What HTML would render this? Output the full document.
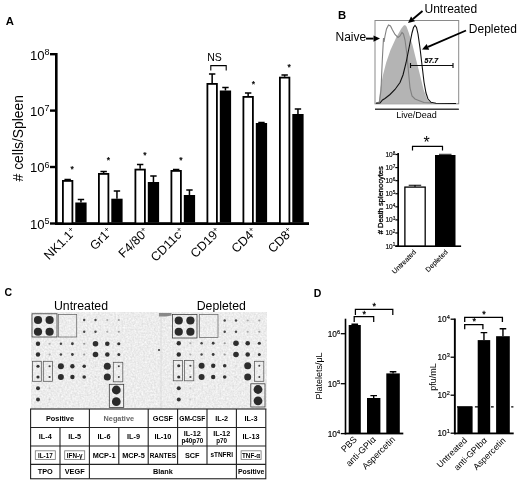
<!DOCTYPE html>
<html><head><meta charset="utf-8"><title>Figure</title>
<style>
html,body{margin:0;padding:0;background:#fff;}
body{width:520px;height:483px;overflow:hidden;}
svg{display:block;font-family:"Liberation Sans",sans-serif;fill:#000;}
.b{font-weight:bold;}
.tb{font-weight:bold;font-size:7.3px;text-anchor:middle;}
</style></head><body>
<svg width="520" height="483" viewBox="0 0 520 483">
<rect width="520" height="483" fill="#fff"/>
<defs><filter id="jp" x="0" y="0" width="520" height="483" filterUnits="userSpaceOnUse"><feGaussianBlur stdDeviation="0.38"/></filter></defs>
<g filter="url(#jp)">

<g id="panelA">
<text x="5.8" y="24.5" font-size="11.3" text-anchor="start" class="b">A</text>
<rect x="55" y="53" width="2.6" height="172" />
<rect x="55" y="222.2" width="254" height="2.8" />
<rect x="50" y="53.0" width="6" height="2.4"/>
<text x="49.5" y="59.5" font-size="13.1" text-anchor="end">10<tspan font-size="9" dy="-4.6">8</tspan></text>
<rect x="50" y="109.39999999999999" width="6" height="2.4"/>
<text x="49.5" y="115.89999999999999" font-size="13.1" text-anchor="end">10<tspan font-size="9" dy="-4.6">7</tspan></text>
<rect x="50" y="165.8" width="6" height="2.4"/>
<text x="49.5" y="172.3" font-size="13.1" text-anchor="end">10<tspan font-size="9" dy="-4.6">6</tspan></text>
<rect x="50" y="222.3" width="6" height="2.4"/>
<text x="49.5" y="228.8" font-size="13.1" text-anchor="end">10<tspan font-size="9" dy="-4.6">5</tspan></text>
<text x="22.6" y="138.2" font-size="13.9" text-anchor="middle" transform="rotate(-90 22.6 138.2)"># cells/Spleen</text>
<rect x="62.9" y="180.9" width="9.5" height="42.5" fill="#fff" stroke="#000" stroke-width="1.8"/>
<path d="M67.65 180 V179.6 M64.45 179.6 H70.85000000000001" stroke="#000" stroke-width="1.5" fill="none"/>
<rect x="75.3" y="202.5" width="11.3" height="20.0"/>
<path d="M80.95 202.5 V199.5 M77.75 199.5 H84.15" stroke="#000" stroke-width="1.5" fill="none"/>
<text x="72.2" y="171.5" font-size="8.6" text-anchor="middle" fill="#000" stroke="#000" stroke-width="0.25">*</text>
<text x="77" y="232.6" font-size="12.5" text-anchor="end" transform="rotate(-45 77 232.6)">NK1.1<tspan font-size="8" dy="-4">+</tspan></text>
<rect x="98.9" y="173.9" width="9.5" height="49.5" fill="#fff" stroke="#000" stroke-width="1.8"/>
<path d="M103.65 173 V171.6 M100.45 171.6 H106.85000000000001" stroke="#000" stroke-width="1.5" fill="none"/>
<rect x="111.3" y="198.7" width="11.3" height="23.80000000000001"/>
<path d="M116.95 198.7 V191 M113.75 191 H120.15" stroke="#000" stroke-width="1.5" fill="none"/>
<text x="108.5" y="163.0" font-size="8.6" text-anchor="middle" fill="#000" stroke="#000" stroke-width="0.25">*</text>
<text x="113" y="232.6" font-size="12.5" text-anchor="end" transform="rotate(-45 113 232.6)">Gr1<tspan font-size="8" dy="-4">+</tspan></text>
<rect x="135.4" y="169.6" width="9.5" height="53.80000000000001" fill="#fff" stroke="#000" stroke-width="1.8"/>
<path d="M140.15 168.7 V164.5 M136.95000000000002 164.5 H143.35" stroke="#000" stroke-width="1.5" fill="none"/>
<rect x="147.8" y="182" width="11.3" height="40.5"/>
<path d="M153.45000000000002 182 V176 M150.25000000000003 176 H156.65" stroke="#000" stroke-width="1.5" fill="none"/>
<text x="145.0" y="157.7" font-size="8.6" text-anchor="middle" fill="#000" stroke="#000" stroke-width="0.25">*</text>
<text x="149.5" y="232.6" font-size="12.5" text-anchor="end" transform="rotate(-45 149.5 232.6)">F4/80<tspan font-size="8" dy="-4">+</tspan></text>
<rect x="171.4" y="170.9" width="9.5" height="52.5" fill="#fff" stroke="#000" stroke-width="1.8"/>
<path d="M176.15 170 V169.4 M172.95000000000002 169.4 H179.35" stroke="#000" stroke-width="1.5" fill="none"/>
<rect x="183.8" y="195" width="11.3" height="27.5"/>
<path d="M189.45000000000002 195 V190 M186.25000000000003 190 H192.65" stroke="#000" stroke-width="1.5" fill="none"/>
<text x="181.0" y="162.7" font-size="8.6" text-anchor="middle" fill="#000" stroke="#000" stroke-width="0.25">*</text>
<text x="185.5" y="232.6" font-size="12.5" text-anchor="end" transform="rotate(-45 185.5 232.6)">CD11c<tspan font-size="8" dy="-4">+</tspan></text>
<rect x="207.4" y="83.9" width="9.5" height="139.5" fill="#fff" stroke="#000" stroke-width="1.8"/>
<path d="M212.15 83 V74 M208.95000000000002 74 H215.35" stroke="#000" stroke-width="1.5" fill="none"/>
<rect x="219.8" y="90.5" width="11.3" height="132.0"/>
<path d="M225.45000000000002 90.5 V87.5 M222.25000000000003 87.5 H228.65" stroke="#000" stroke-width="1.5" fill="none"/>
<text x="221.5" y="232.6" font-size="12.5" text-anchor="end" transform="rotate(-45 221.5 232.6)">CD19<tspan font-size="8" dy="-4">+</tspan></text>
<rect x="243.4" y="96.9" width="9.5" height="126.5" fill="#fff" stroke="#000" stroke-width="1.8"/>
<path d="M248.15 96 V93 M244.95000000000002 93 H251.35" stroke="#000" stroke-width="1.5" fill="none"/>
<rect x="255.8" y="123" width="11.3" height="99.5"/>
<path d="M261.45 123 V122.6 M258.25 122.6 H264.65" stroke="#000" stroke-width="1.5" fill="none"/>
<text x="253.5" y="87.0" font-size="8.6" text-anchor="middle" fill="#000" stroke="#000" stroke-width="0.25">*</text>
<text x="257.5" y="232.6" font-size="12.5" text-anchor="end" transform="rotate(-45 257.5 232.6)">CD4<tspan font-size="8" dy="-4">+</tspan></text>
<rect x="279.9" y="77.60000000000001" width="9.5" height="145.8" fill="#fff" stroke="#000" stroke-width="1.8"/>
<path d="M284.65 76.7 V75 M281.45 75 H287.84999999999997" stroke="#000" stroke-width="1.5" fill="none"/>
<rect x="292.3" y="114" width="11.3" height="108.5"/>
<path d="M297.95 114 V109 M294.75 109 H301.15" stroke="#000" stroke-width="1.5" fill="none"/>
<text x="289.2" y="69.5" font-size="8.6" text-anchor="middle" fill="#000" stroke="#000" stroke-width="0.25">*</text>
<text x="294" y="232.6" font-size="12.5" text-anchor="end" transform="rotate(-45 294 232.6)">CD8<tspan font-size="8" dy="-4">+</tspan></text>
<text x="214.5" y="61.3" font-size="10.5" text-anchor="middle">NS</text>
<path d="M210.8 70.5 V65.6 H226.2 V70.5" stroke="#000" stroke-width="1.1" fill="none"/>
</g>
<g id="panelB">
<text x="338" y="19" font-size="11.3" text-anchor="start" class="b">B</text>
<rect x="375" y="20.5" width="83.7" height="83.3" fill="#fff" stroke="#8a8a8a" stroke-width="1"/>
<path d="M377 103.3 L378.7 102.5 L380.5 87.5 L383 75 L386.2 62.5 L390.5 50 L396.2 37.5 L401.2 28.7 L403.5 25.8 L405 25 L406.5 26.5 L408.7 32.5 L412.5 45 L416.2 60 L420 75 L423.7 90 L427.5 100 L431.2 103 L437 103.3 Z" fill="#b4b4b4"/>
<path d="M376 103 L379.5 102 L381 90 L382.3 60 L383.5 38 L384 42 L385 36 L386.5 29 L388.5 25 L390.5 26 L392.5 30 L395 34.5 L398 37.5 L400 36 L402 32.5 L403.5 34 L405 40 L407 55 L408.5 72 L410 88 L412 96 L415 99 L420 101 L424 102.5 L432 103" fill="none" stroke="#808080" stroke-width="1.1"/>
<path d="M376 103.2 L380 103 L382.5 100 L385 98.5 L390 94.5 L395 89.5 L400 82.5 L403 75 L406 63 L408 53 L410 43 L412 33 L413.5 27.5 L415 25.5 L416.5 27.5 L418 34 L420 48 L422 65 L424 82 L426 93 L428 99 L431 102.3 L436 103.2 L456 103.5" fill="none" stroke="#111" stroke-width="1.1"/>
<path d="M410.5 65.5 H453 M410.5 63 V68 M453 63 V68" stroke="#111" stroke-width="1.15" fill="none"/>
<text x="431.3" y="63" font-size="7" text-anchor="middle" font-weight="bold" font-style="italic" stroke="#000" stroke-width="0.2">57.7</text>
<rect x="375" y="108.6" width="83.9" height="1.2" fill="#111"/>
<text x="416.4" y="117.6" font-size="9" text-anchor="middle">Live/Dead</text>
<text x="335.5" y="40.7" font-size="12" text-anchor="start">Naive</text>
<text x="424.5" y="12.5" font-size="12" text-anchor="start">Untreated</text>
<text x="468.8" y="32.5" font-size="12" text-anchor="start">Depleted</text>
<path d="M366.0 38.6 L373.5 38.6" stroke="#000" stroke-width="1.9" fill="none"/>
<path d="M380.0 38.6 L373.5 41.7 L373.5 35.5 Z"/>
<path d="M422.5 11.0 L413.0 18.9" stroke="#000" stroke-width="1.9" fill="none"/>
<path d="M408.0 23.0 L411.0 16.5 L415.0 21.2 Z"/>
<path d="M466.0 30.5 L428.0 46.9" stroke="#000" stroke-width="1.9" fill="none"/>
<path d="M422.0 49.5 L426.7 44.1 L429.2 49.8 Z"/>
<rect x="397.3" y="153" width="1.7" height="94" fill="#000"/>
<rect x="395.3" y="245.4" width="65.8" height="1.6" fill="#000"/>
<rect x="395.3" y="153.9" width="2.6" height="1.2" fill="#000"/>
<text x="395.2" y="157.0" font-size="6.5" text-anchor="end" fill="#000" stroke="#000" stroke-width="0.15">10<tspan font-size="4.6" dy="-2.2">8</tspan></text>
<rect x="395.3" y="166.98000000000002" width="2.6" height="1.2" fill="#000"/>
<text x="395.2" y="170.08" font-size="6.5" text-anchor="end" fill="#000" stroke="#000" stroke-width="0.15">10<tspan font-size="4.6" dy="-2.2">7</tspan></text>
<rect x="395.3" y="180.06" width="2.6" height="1.2" fill="#000"/>
<text x="395.2" y="183.16" font-size="6.5" text-anchor="end" fill="#000" stroke="#000" stroke-width="0.15">10<tspan font-size="4.6" dy="-2.2">6</tspan></text>
<rect x="395.3" y="193.14000000000001" width="2.6" height="1.2" fill="#000"/>
<text x="395.2" y="196.24" font-size="6.5" text-anchor="end" fill="#000" stroke="#000" stroke-width="0.15">10<tspan font-size="4.6" dy="-2.2">5</tspan></text>
<rect x="395.3" y="206.22" width="2.6" height="1.2" fill="#000"/>
<text x="395.2" y="209.32" font-size="6.5" text-anchor="end" fill="#000" stroke="#000" stroke-width="0.15">10<tspan font-size="4.6" dy="-2.2">4</tspan></text>
<rect x="395.3" y="219.3" width="2.6" height="1.2" fill="#000"/>
<text x="395.2" y="222.4" font-size="6.5" text-anchor="end" fill="#000" stroke="#000" stroke-width="0.15">10<tspan font-size="4.6" dy="-2.2">3</tspan></text>
<rect x="395.3" y="232.38000000000002" width="2.6" height="1.2" fill="#000"/>
<text x="395.2" y="235.48000000000002" font-size="6.5" text-anchor="end" fill="#000" stroke="#000" stroke-width="0.15">10<tspan font-size="4.6" dy="-2.2">2</tspan></text>
<rect x="395.3" y="245.46" width="2.6" height="1.2" fill="#000"/>
<text x="395.2" y="248.56" font-size="6.5" text-anchor="end" fill="#000" stroke="#000" stroke-width="0.15">10<tspan font-size="4.6" dy="-2.2">1</tspan></text>
<rect x="404.9" y="187.1" width="20.3" height="58.9" fill="#fff" stroke="#000" stroke-width="1.3"/>
<path d="M408.7 185.3 H421.2 M415 185.3 V187.1" stroke="#000" stroke-width="1.1" fill="none"/>
<rect x="435" y="155" width="20.5" height="91"/>
<path d="M439 154.3 H451.5" stroke="#000" stroke-width="0.9"/>
<path d="M412.5 150.6 V146.4 H442.5 V150.6" stroke="#000" stroke-width="1.2" fill="none"/>
<text x="426.5" y="148.3" font-size="16" text-anchor="middle">*</text>
<text x="383.4" y="200.3" font-size="7.5" text-anchor="middle" transform="rotate(-90 383.4 200.3)" fill="#000" stroke="#000" stroke-width="0.3"># Death splenocytes</text>
<text x="416.6" y="252.6" font-size="7" text-anchor="end" fill="#000" stroke="#000" stroke-width="0.1" transform="rotate(-45 416.6 252.6)">Untreated</text>
<text x="448.2" y="252.6" font-size="7" text-anchor="end" fill="#000" stroke="#000" stroke-width="0.1" transform="rotate(-45 448.2 252.6)">Depleted</text>
</g>
<defs><filter id="soft" x="-5%" y="-5%" width="110%" height="110%"><feGaussianBlur stdDeviation="0.45"/></filter><filter id="noise" x="0" y="0" width="100%" height="100%" color-interpolation-filters="sRGB"><feTurbulence type="fractalNoise" baseFrequency="0.55" numOctaves="2" seed="3" result="n"/><feColorMatrix in="n" type="matrix" values="0.16 0 0 0 0.845  0.16 0 0 0 0.845  0.16 0 0 0 0.845  0 0 0 0 1"/></filter></defs>
<g id="panelC">
<text x="4.5" y="296.4" font-size="10.5" text-anchor="start" class="b">C</text>
<text x="81" y="310" font-size="12.3" text-anchor="middle">Untreated</text>
<text x="221.3" y="310" font-size="12.3" text-anchor="middle">Depleted</text>
<rect x="31.2" y="312.5" width="235" height="97" fill="#e9e9e9" filter="url(#noise)"/>
<g filter="url(#soft)">
<path d="M159 313 H171.5 V315.5 L166 316.6 H159 Z" fill="#777" opacity="0.85"/>
<path d="M161 317 V409" stroke="#d8d8d8" stroke-width="0.8"/>
<circle cx="159" cy="350" r="1" fill="#333"/>
<circle cx="38" cy="320" r="4.1" fill="#2b2b2b"/>
<circle cx="49.6" cy="320" r="4.1" fill="#2b2b2b"/>
<circle cx="84.2" cy="320" r="1.2" fill="#444"/>
<circle cx="95.5" cy="320" r="1.2" fill="#444"/>
<circle cx="107.3" cy="320" r="1.1" fill="#a8a8a8"/>
<circle cx="118.8" cy="320" r="1.1" fill="#999"/>
<circle cx="38" cy="331.75" r="4.1" fill="#2b2b2b"/>
<circle cx="49.6" cy="331.75" r="4.1" fill="#2b2b2b"/>
<circle cx="84.2" cy="331.75" r="1.2" fill="#444"/>
<circle cx="95.5" cy="331.75" r="1.2" fill="#444"/>
<circle cx="107.3" cy="331.75" r="1.1" fill="#a8a8a8"/>
<circle cx="118.8" cy="331.75" r="1.1" fill="#999"/>
<circle cx="38" cy="343.75" r="2.2" fill="#2e2e2e"/>
<circle cx="49.6" cy="343.75" r="1.1" fill="#aaa"/>
<circle cx="60.9" cy="343.75" r="1.2" fill="#444"/>
<circle cx="72.4" cy="343.75" r="1.4" fill="#3a3a3a"/>
<circle cx="84.2" cy="343.75" r="1.1" fill="#999"/>
<circle cx="95.5" cy="343.75" r="2.8" fill="#2e2e2e"/>
<circle cx="107.3" cy="343.75" r="2.3" fill="#2e2e2e"/>
<circle cx="118.8" cy="343.75" r="1.6" fill="#333"/>
<circle cx="38" cy="354.5" r="2.2" fill="#2e2e2e"/>
<circle cx="49.6" cy="354.5" r="1.1" fill="#aaa"/>
<circle cx="60.9" cy="354.5" r="1.2" fill="#444"/>
<circle cx="72.4" cy="354.5" r="1.4" fill="#3a3a3a"/>
<circle cx="84.2" cy="354.5" r="1.1" fill="#999"/>
<circle cx="95.5" cy="354.5" r="2.8" fill="#2e2e2e"/>
<circle cx="107.3" cy="354.5" r="2.3" fill="#2e2e2e"/>
<circle cx="118.8" cy="354.5" r="1.5" fill="#333"/>
<circle cx="38" cy="366.25" r="1.6" fill="#333"/>
<circle cx="49.6" cy="366.25" r="1.1" fill="#444"/>
<circle cx="60.9" cy="366.25" r="3.0" fill="#2e2e2e"/>
<circle cx="72.4" cy="366.25" r="2.2" fill="#2e2e2e"/>
<circle cx="84.2" cy="366.25" r="1.8" fill="#333"/>
<circle cx="95.5" cy="366.25" r="1.0" fill="#d8d8d8"/>
<circle cx="107.3" cy="366.25" r="3.5" fill="#2e2e2e"/>
<circle cx="118.8" cy="366.25" r="1.0" fill="#444"/>
<circle cx="38" cy="377" r="1.6" fill="#333"/>
<circle cx="49.6" cy="377" r="1.1" fill="#444"/>
<circle cx="60.9" cy="377" r="3.0" fill="#2e2e2e"/>
<circle cx="72.4" cy="377" r="2.2" fill="#2e2e2e"/>
<circle cx="84.2" cy="377" r="1.8" fill="#333"/>
<circle cx="95.5" cy="377" r="1.0" fill="#d8d8d8"/>
<circle cx="107.3" cy="377" r="3.5" fill="#2e2e2e"/>
<circle cx="118.8" cy="377" r="1.0" fill="#444"/>
<circle cx="38" cy="388.25" r="2.0" fill="#333"/>
<circle cx="49.6" cy="388.25" r="1.0" fill="#ccc"/>
<circle cx="38" cy="399.5" r="2.0" fill="#333"/>
<circle cx="49.6" cy="399.5" r="1.0" fill="#ccc"/>
<circle cx="116.3" cy="390" r="4.4" fill="#2b2b2b"/>
<circle cx="116.3" cy="401.7" r="4.4" fill="#2b2b2b"/>
<circle cx="258" cy="389.5" r="4.4" fill="#2b2b2b"/>
<circle cx="258" cy="400.8" r="4.4" fill="#2b2b2b"/>
<circle cx="178.75" cy="320.5" r="4.1" fill="#2b2b2b"/>
<circle cx="190.4" cy="320.5" r="4.1" fill="#2b2b2b"/>
<circle cx="224.7" cy="320.5" r="1.2" fill="#444"/>
<circle cx="236" cy="320.5" r="1.2" fill="#444"/>
<circle cx="247.7" cy="320.5" r="1.1" fill="#a8a8a8"/>
<circle cx="259.3" cy="320.5" r="1.1" fill="#999"/>
<circle cx="178.75" cy="331.75" r="4.1" fill="#2b2b2b"/>
<circle cx="190.4" cy="331.75" r="4.1" fill="#2b2b2b"/>
<circle cx="224.7" cy="331.75" r="1.2" fill="#444"/>
<circle cx="236" cy="331.75" r="1.2" fill="#444"/>
<circle cx="247.7" cy="331.75" r="1.1" fill="#a8a8a8"/>
<circle cx="259.3" cy="331.75" r="1.1" fill="#999"/>
<circle cx="178.75" cy="343.25" r="2.2" fill="#2e2e2e"/>
<circle cx="190.4" cy="343.25" r="1.1" fill="#aaa"/>
<circle cx="201.6" cy="343.25" r="1.2" fill="#444"/>
<circle cx="213.2" cy="343.25" r="1.4" fill="#3a3a3a"/>
<circle cx="224.7" cy="343.25" r="1.1" fill="#999"/>
<circle cx="236" cy="343.25" r="2.8" fill="#2e2e2e"/>
<circle cx="247.7" cy="343.25" r="2.3" fill="#2e2e2e"/>
<circle cx="259.3" cy="343.25" r="1.6" fill="#333"/>
<circle cx="178.75" cy="354.5" r="2.2" fill="#2e2e2e"/>
<circle cx="190.4" cy="354.5" r="1.1" fill="#aaa"/>
<circle cx="201.6" cy="354.5" r="1.2" fill="#444"/>
<circle cx="213.2" cy="354.5" r="1.4" fill="#3a3a3a"/>
<circle cx="224.7" cy="354.5" r="1.1" fill="#999"/>
<circle cx="236" cy="354.5" r="2.8" fill="#2e2e2e"/>
<circle cx="247.7" cy="354.5" r="2.3" fill="#2e2e2e"/>
<circle cx="259.3" cy="354.5" r="1.5" fill="#333"/>
<circle cx="178.75" cy="365.75" r="1.6" fill="#333"/>
<circle cx="190.4" cy="365.75" r="1.1" fill="#444"/>
<circle cx="201.6" cy="365.75" r="3.0" fill="#2e2e2e"/>
<circle cx="213.2" cy="365.75" r="2.2" fill="#2e2e2e"/>
<circle cx="224.7" cy="365.75" r="1.8" fill="#333"/>
<circle cx="236" cy="365.75" r="1.0" fill="#d8d8d8"/>
<circle cx="247.7" cy="365.75" r="3.5" fill="#2e2e2e"/>
<circle cx="259.3" cy="365.75" r="1.0" fill="#444"/>
<circle cx="178.75" cy="377" r="1.6" fill="#333"/>
<circle cx="190.4" cy="377" r="1.1" fill="#444"/>
<circle cx="201.6" cy="377" r="3.0" fill="#2e2e2e"/>
<circle cx="213.2" cy="377" r="2.2" fill="#2e2e2e"/>
<circle cx="224.7" cy="377" r="1.8" fill="#333"/>
<circle cx="236" cy="377" r="1.0" fill="#d8d8d8"/>
<circle cx="247.7" cy="377" r="3.5" fill="#2e2e2e"/>
<circle cx="259.3" cy="377" r="1.0" fill="#444"/>
<circle cx="178.75" cy="388.25" r="2.0" fill="#333"/>
<circle cx="190.4" cy="388.25" r="1.0" fill="#ccc"/>
<circle cx="178.75" cy="399.5" r="2.0" fill="#333"/>
<circle cx="190.4" cy="399.5" r="1.0" fill="#ccc"/>
</g>
<rect x="32" y="313.8" width="25" height="23.19999999999999" fill="none" stroke="#333" stroke-width="0.75"/>
<rect x="58.3" y="314.5" width="18.400000000000006" height="22.5" fill="none" stroke="#666" stroke-width="0.75"/>
<rect x="32.5" y="361.3" width="8.799999999999997" height="20.0" fill="none" stroke="#555" stroke-width="0.75"/>
<rect x="43.3" y="361.3" width="9.200000000000003" height="20.0" fill="none" stroke="#555" stroke-width="0.75"/>
<rect x="113.3" y="362.3" width="9.5" height="19.5" fill="none" stroke="#555" stroke-width="0.75"/>
<rect x="109.3" y="384.3" width="14.400000000000006" height="23.19999999999999" fill="none" stroke="#333" stroke-width="0.75"/>
<rect x="172.5" y="314.5" width="24.5" height="23.5" fill="none" stroke="#333" stroke-width="0.75"/>
<rect x="199.3" y="314.5" width="18.69999999999999" height="23.0" fill="none" stroke="#666" stroke-width="0.75"/>
<rect x="173.3" y="360.5" width="9.199999999999989" height="20.30000000000001" fill="none" stroke="#555" stroke-width="0.75"/>
<rect x="184.5" y="360.5" width="9.300000000000011" height="20.30000000000001" fill="none" stroke="#555" stroke-width="0.75"/>
<rect x="254.5" y="361.3" width="9.300000000000011" height="20.0" fill="none" stroke="#555" stroke-width="0.75"/>
<rect x="250.8" y="383.8" width="14.199999999999989" height="23.19999999999999" fill="none" stroke="#333" stroke-width="0.75"/>
<rect x="30.6" y="409" width="235.2" height="69.75" fill="#fff"/>
<rect x="30.6" y="409.0" width="235.20000000000002" height="69.75" stroke="#222" stroke-width="1.1" fill="none"/>
<path d="M30.6 427.5 H265.8" stroke="#222" stroke-width="1.1" fill="none"/>
<path d="M30.6 446.0 H265.8" stroke="#222" stroke-width="1.1" fill="none"/>
<path d="M30.6 464.4 H265.8" stroke="#222" stroke-width="1.1" fill="none"/>
<path d="M60.0 427.5 V478.75" stroke="#222" stroke-width="1.1" fill="none"/>
<path d="M89.4 409.0 V478.75" stroke="#222" stroke-width="1.1" fill="none"/>
<path d="M118.79999999999998 427.5 V464.4" stroke="#222" stroke-width="1.1" fill="none"/>
<path d="M148.2 409.0 V464.4" stroke="#222" stroke-width="1.1" fill="none"/>
<path d="M177.6 409.0 V464.4" stroke="#222" stroke-width="1.1" fill="none"/>
<path d="M206.99999999999997 409.0 V464.4" stroke="#222" stroke-width="1.1" fill="none"/>
<path d="M236.39999999999998 409.0 V478.75" stroke="#222" stroke-width="1.1" fill="none"/>
<text x="60.00" y="420.85" class="tb" fill="#000">Positive</text>
<text x="118.80" y="420.85" class="tb" fill="#666">Negative</text>
<text x="162.90" y="420.85" class="tb" fill="#000">GCSF</text>
<text x="192.29999999999998" y="420.65" class="tb" style="font-size:6.6px">GM-CSF</text>
<text x="221.70" y="420.85" class="tb" fill="#000">IL-2</text>
<text x="251.10" y="420.85" class="tb" fill="#000">IL-3</text>
<text x="45.30" y="439.35" class="tb" fill="#000">IL-4</text>
<text x="74.70" y="439.35" class="tb" fill="#000">IL-5</text>
<text x="104.10" y="439.35" class="tb" fill="#000">IL-6</text>
<text x="133.50" y="439.35" class="tb" fill="#000">IL-9</text>
<text x="162.90" y="439.35" class="tb" fill="#000">IL-10</text>
<text x="192.30" y="435.95" class="tb" fill="#000">IL-12</text>
<text x="221.70" y="435.95" class="tb" fill="#000">IL-12</text>
<text x="251.10" y="439.35" class="tb" fill="#000">IL-13</text>
<text x="192.29999999999998" y="443.35" class="tb" style="font-size:6.3px">p40p70</text>
<text x="221.7" y="443.35" class="tb" style="font-size:6.3px">p70</text>
<text x="45.3" y="457.5" class="tb" style="font-size:6.3px">IL-17</text>
<text x="74.7" y="457.5" class="tb" style="font-size:6.3px">IFN-γ</text>
<text x="104.10" y="457.80" class="tb" fill="#000">MCP-1</text>
<text x="133.50" y="457.80" class="tb" fill="#000">MCP-5</text>
<text x="162.89999999999998" y="457.5" class="tb" style="font-size:6.4px">RANTES</text>
<text x="192.30" y="457.80" class="tb" fill="#000">SCF</text>
<text x="221.7" y="457.4" class="tb" style="font-size:6.45px">sTNFRI</text>
<text x="251.1" y="457.5" class="tb" style="font-size:6.3px">TNF-α</text>
<text x="45.30" y="474.18" class="tb" fill="#000">TPO</text>
<text x="74.70" y="474.18" class="tb" fill="#000">VEGF</text>
<text x="162.90" y="474.18" class="tb" fill="#000">Blank</text>
<text x="251.1" y="473.97499999999997" class="tb" style="font-size:6.9px">Positive</text>
<rect x="35.3" y="450.8" width="20" height="8.6" fill="none" stroke="#777" stroke-width="0.8"/>
<rect x="64.7" y="450.8" width="20" height="8.6" fill="none" stroke="#777" stroke-width="0.8"/>
<rect x="241.1" y="450.8" width="20" height="8.6" fill="none" stroke="#777" stroke-width="0.8"/>
</g>
<g id="panelD">
<text x="313.7" y="297.2" font-size="10.5" text-anchor="start" class="b">D</text>
<rect x="344.7" y="318.7" width="1.6" height="115.7"/>
<rect x="344.7" y="432.6" width="58.6" height="1.8"/>
<rect x="340.8" y="333.05" width="4.5" height="1.3"/>
<text x="340" y="336.9" font-size="8.3" text-anchor="end" stroke="#000" stroke-width="0.15">10<tspan font-size="5.6" dy="-3">6</tspan></text>
<rect x="340.8" y="383.05" width="4.5" height="1.3"/>
<text x="340" y="386.9" font-size="8.3" text-anchor="end" stroke="#000" stroke-width="0.15">10<tspan font-size="5.6" dy="-3">5</tspan></text>
<rect x="340.8" y="432.95000000000005" width="4.5" height="1.3"/>
<text x="340" y="436.8" font-size="8.3" text-anchor="end" stroke="#000" stroke-width="0.15">10<tspan font-size="5.6" dy="-3">4</tspan></text>
<rect x="348.7" y="325" width="12.100000000000023" height="108.5"/>
<path d="M354.75 325 V324.3 M351.45 324.3 H358.05" stroke="#000" stroke-width="1.4" fill="none"/>
<rect x="367" y="398" width="13.399999999999977" height="35.5"/>
<path d="M373.7 398 V395.6 M370.4 395.6 H377.0" stroke="#000" stroke-width="1.4" fill="none"/>
<rect x="386.3" y="373.4" width="13.5" height="60.10000000000002"/>
<path d="M393.05 373.4 V371.7 M389.75 371.7 H396.35" stroke="#000" stroke-width="1.4" fill="none"/>
<path d="M355.4 315 V309.3 H392.8 V315" stroke="#000" stroke-width="1.25" fill="none"/>
<path d="M354.2 322 V316.7 H373.7 V322" stroke="#000" stroke-width="1.25" fill="none"/>
<text x="374.3" y="309.1" font-size="9" text-anchor="middle" stroke="#000" stroke-width="0.3">*</text>
<text x="364.2" y="316.5" font-size="9" text-anchor="middle" stroke="#000" stroke-width="0.3">*</text>
<text x="322.3" y="376" font-size="9" text-anchor="middle" transform="rotate(-90 322.3 376)">Platelets/μL</text>
<text x="357.5" y="440" font-size="9" text-anchor="end" transform="rotate(-45 357.5 440)">PBS</text>
<text x="376.5" y="440" font-size="9" text-anchor="end" transform="rotate(-45 376.5 440)">anti-GPIα</text>
<text x="395.8" y="440" font-size="9" text-anchor="end" transform="rotate(-45 395.8 440)">Aspercetin</text>
<rect x="453.9" y="318.5" width="1.9" height="115.8"/>
<rect x="454.1" y="432.5" width="59.6" height="1.8"/>
<rect x="450.6" y="318.55" width="4" height="1.3"/>
<text x="449.8" y="322.4" font-size="8.3" text-anchor="end" stroke="#000" stroke-width="0.15">10<tspan font-size="5.6" dy="-3">4</tspan></text>
<rect x="450.6" y="356.55" width="4" height="1.3"/>
<text x="449.8" y="360.4" font-size="8.3" text-anchor="end" stroke="#000" stroke-width="0.15">10<tspan font-size="5.6" dy="-3">3</tspan></text>
<rect x="450.6" y="394.55" width="4" height="1.3"/>
<text x="449.8" y="398.4" font-size="8.3" text-anchor="end" stroke="#000" stroke-width="0.15">10<tspan font-size="5.6" dy="-3">2</tspan></text>
<rect x="450.6" y="432.55" width="4" height="1.3"/>
<text x="449.8" y="436.4" font-size="8.3" text-anchor="end" stroke="#000" stroke-width="0.15">10<tspan font-size="5.6" dy="-3">1</tspan></text>
<rect x="457.4" y="406.7" width="15.2" height="26.8"/>
<rect x="477.7" y="340.1" width="12.5" height="93.29999999999995"/>
<path d="M483.95 340.1 V332.6 M480.65 332.6 H487.25" stroke="#000" stroke-width="1.4" fill="none"/>
<rect x="496.1" y="336.2" width="13.699999999999989" height="97.19999999999999"/>
<path d="M502.95000000000005 336.2 V328.7 M499.65000000000003 328.7 H506.25000000000006" stroke="#000" stroke-width="1.4" fill="none"/>
<path d="M457 406.9 H472.4 M474.9 406.9 H478 M491 406.9 H493.7 M511.2 406.9 H513.4" stroke="#000" stroke-width="1.3" fill="none"/>
<path d="M464.7 321.9 V317.3 H502.4 V321.9" stroke="#000" stroke-width="1.3" fill="none"/>
<path d="M464.7 329.2 V324.6 H482.9 V329.2" stroke="#000" stroke-width="1.3" fill="none"/>
<text x="484" y="316.8" font-size="9" text-anchor="middle" stroke="#000" stroke-width="0.3">*</text>
<text x="474.2" y="324.3" font-size="9" text-anchor="middle" stroke="#000" stroke-width="0.3">*</text>
<text x="436" y="377" font-size="9" text-anchor="middle" transform="rotate(-90 436 377)">pfu/mL</text>
<text x="467.7" y="441" font-size="8.8" text-anchor="end" transform="rotate(-45 467.7 441)">Untreated</text>
<text x="487.5" y="441" font-size="8.8" text-anchor="end" transform="rotate(-45 487.5 441)">anti-GPIbα</text>
<text x="506.2" y="441" font-size="8.8" text-anchor="end" transform="rotate(-45 506.2 441)">Aspercetin</text>
</g>
</g></svg></body></html>
